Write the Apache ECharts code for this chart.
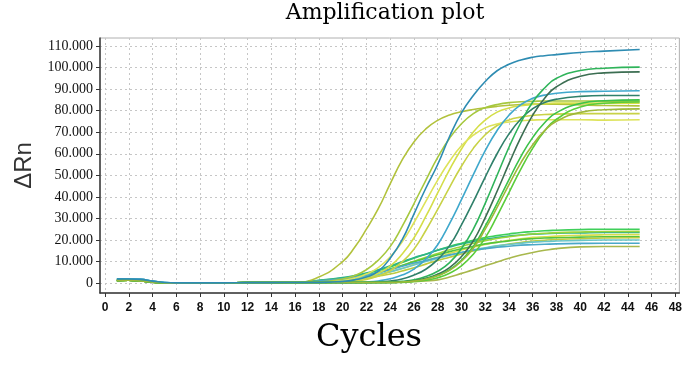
<!DOCTYPE html>
<html>
<head>
  <meta charset="UTF-8" />
  <title>Amplification plot</title>
  <script src="https://cdn.jsdelivr.net/npm/echarts@6/dist/echarts.min.js"></script>
  <style>
    html, body { margin: 0; padding: 0; background: #fff; }
    #chart { width: 685px; height: 374px; }
  </style>
</head>
<body>
  <div id="chart"></div>
  <script>
    // cycles where the baseline is read, shared by every well
    const earlyCycles = [1, 2, 3, 4, 5, 6, 8, 10, 12, 14, 16];
    const baseGreen = [1.2, 1.3, 1.0, 0.4, 0.1, 0, 0.1, 0.1, 0.2, 0.2, 0.3];
    const baseBlue = [1.9, 1.9, 1.7, 0.9, 0.3, 0.1, 0.1, 0.1, 0.2, 0.2, 0.3];

    // cycles read in the growth phase
    const lateCycles = [18, 20, 21, 22, 23, 24, 25, 26, 27, 28, 29, 30, 31, 32, 33, 34, 35, 36, 37, 38, 40, 42, 45];

    // high plateau wells (ΔRn in thousands)
    const wellA = [2.8, 10, 16.5, 25, 34.5, 46, 57, 65.5, 71.5, 75.5, 78, 79.5, 80.5, 81.3, 82, 82.5, 82.8, 83, 83, 83, 82.6, 82.4, 82.2];
    const wellB = [0.3, 0.8, 1.5, 2.8, 5.5, 11.5, 20, 32, 44, 55, 68, 79, 87, 93.5, 98.5, 101.5, 103.5, 104.8, 105.5, 106, 107, 107.6, 108.4];
    const wellC = [0.5, 1.9, 3.5, 6.2, 10.6, 16.9, 26.2, 36.8, 47.7, 58.3, 67.2, 73.9, 78.6, 81.4, 82.8, 83.7, 84.1, 84.3, 84.5, 84.5, 84.5, 84.4, 84.4];
    const wellD = [0.3, 0.7, 1.3, 2.5, 4.6, 7.9, 13.4, 20.9, 30.9, 41.8, 52.6, 62.2, 70.1, 75.6, 79.3, 81.2, 82.3, 82.9, 83.2, 83.5, 83.5, 83.5, 83.5];
    const wellE = [0.3, 0.5, 0.9, 1.7, 3.3, 5.7, 9.8, 15.7, 24.4, 34.2, 44.4, 54.2, 62.5, 68.8, 73.1, 75.7, 77.0, 77.8, 78.2, 78.4, 78.6, 78.6, 78.6];
    const wellX = [0.3, 1.1, 2.3, 4.2, 7.2, 12.1, 19.0, 28.0, 37.9, 47.8, 56.5, 63.7, 68.6, 72.0, 73.8, 74.7, 75.3, 75.6, 75.8, 75.8, 75.8, 75.6, 75.8];
    const wellF = [0.3, 0.3, 0.3, 0.5, 1.0, 2.0, 3.7, 6.5, 11.1, 17.8, 27.6, 38.7, 50.3, 61.4, 70.8, 77.9, 82.8, 85.7, 87.2, 88.1, 88.8, 89.0, 89.2];
    const wellG = [0.3, 0.3, 0.3, 0.3, 0.5, 1.0, 1.9, 3.7, 6.4, 10.9, 17.4, 27.0, 37.8, 49.2, 60.0, 69.2, 76.1, 80.9, 83.8, 85.3, 86.6, 87.0, 87.0];
    const wellH = [0.3, 0.3, 0.3, 0.3, 0.3, 0.4, 0.8, 1.5, 3.0, 5.5, 9.5, 16.0, 25.0, 37.0, 50.0, 63.0, 74.5, 84.0, 90.5, 95.0, 98.6, 99.7, 100.2];
    const wellI = [0.3, 0.3, 0.3, 0.3, 0.3, 0.3, 0.6, 1.1, 2.2, 4.1, 7.2, 12.3, 19.6, 30.4, 42.6, 55.4, 67.6, 77.9, 85.8, 91.1, 96.0, 97.5, 98.0];
    const wellJ = [0.3, 0.3, 0.3, 0.3, 0.3, 0.3, 0.5, 0.9, 1.9, 3.6, 6.2, 10.6, 17.0, 26.4, 37.0, 48.0, 58.7, 67.6, 74.4, 79.1, 83.3, 84.6, 85.0];
    const wellK = [0.3, 0.3, 0.3, 0.3, 0.3, 0.3, 0.3, 0.7, 1.3, 2.5, 4.6, 8.0, 13.4, 21.0, 31.1, 42.0, 52.9, 62.6, 70.6, 76.0, 81.7, 83.4, 84.0];
    const wellL = [0.3, 0.3, 0.3, 0.3, 0.3, 0.3, 0.5, 0.9, 1.8, 3.4, 5.9, 10.1, 16.2, 25.0, 35.1, 45.7, 55.8, 64.2, 70.7, 75.1, 79.2, 80.4, 80.8];

    // low plateau wells
    const low1 = [1.2, 2.3, 3.2, 4.4, 5.8, 7.5, 9.5, 11.5, 13.4, 15.3, 17.0, 18.5, 19.9, 21.1, 22.0, 22.8, 23.5, 23.9, 24.3, 24.5, 24.8, 25.0, 25.0];
    const low2 = [1.3, 2.6, 3.5, 4.7, 6.2, 8.0, 9.9, 11.8, 13.4, 15.2, 16.7, 18.1, 19.3, 20.3, 21.1, 21.8, 22.3, 22.7, 22.9, 23.1, 23.3, 23.5, 23.5];
    const low3 = [0.7, 1.9, 2.6, 3.6, 4.8, 6.4, 8.2, 10.1, 12.0, 13.7, 15.5, 17.0, 18.5, 19.7, 20.7, 21.5, 22.2, 22.8, 23.1, 23.4, 23.7, 23.9, 24.0];
    const low4 = [0.8, 1.5, 2.1, 2.9, 3.9, 5.2, 6.8, 8.6, 10.4, 12.0, 13.7, 15.3, 16.7, 17.9, 19.0, 19.8, 20.5, 21.2, 21.5, 21.8, 22.2, 22.4, 22.5];
    const low5 = [1.0, 2.0, 2.8, 3.8, 4.9, 6.5, 8.2, 9.9, 11.5, 13.1, 14.6, 15.9, 17.1, 18.2, 18.9, 19.6, 20.2, 20.6, 20.9, 21.0, 21.3, 21.5, 21.5];
    const low6 = [0.5, 1.2, 1.6, 2.3, 3.2, 4.2, 5.6, 7.1, 8.8, 10.5, 12.0, 13.5, 14.9, 16.2, 17.2, 18.1, 18.8, 19.5, 19.9, 20.2, 20.6, 20.9, 21.0];
    const low7 = [0.6, 1.6, 2.2, 3.0, 4.0, 5.3, 6.8, 8.4, 10.0, 11.4, 12.9, 14.2, 15.4, 16.4, 17.3, 17.9, 18.5, 19.0, 19.3, 19.5, 19.8, 20.0, 20.0];
    const low8 = [1.0, 2.0, 2.8, 3.7, 4.9, 6.3, 7.8, 9.3, 10.5, 11.9, 13.1, 14.2, 15.2, 16.0, 16.6, 17.1, 17.6, 17.8, 18.0, 18.2, 18.4, 18.5, 18.5];
    const low9 = [0.3, 0.3, 0.3, 0.3, 0.3, 0.4, 0.5, 0.7, 1.0, 1.5, 2.8, 4.5, 6.2, 8.0, 9.8, 11.5, 13.0, 14.2, 15.2, 16.0, 16.8, 17.0, 17.0];

    const xTicks = [0, 2, 4, 6, 8, 10, 12, 14, 16, 18, 20, 22, 24, 26, 28, 30, 32, 34, 36, 38, 40, 42, 44, 46, 48];
    const yTicks = [0, 10, 20, 30, 40, 50, 60, 70, 80, 90, 100, 110];

    // [values, baseline, colour]
    const wells = [
      [low9, baseGreen, '#a8b84c'],
      [low1, baseGreen, '#3fcf5a'],
      [low2, baseGreen, '#2cb48a'],
      [low3, baseGreen, '#9ad43a'],
      [low4, baseGreen, '#d6de4c'],
      [low5, baseGreen, '#55c43c'],
      [low6, baseGreen, '#bccb3e'],
      [low7, baseBlue, '#6ac6c6'],
      [low8, baseBlue, '#4aa8c8'],
      [wellA, baseGreen, '#b2c23c'],
      [wellC, baseGreen, '#a6c83e'],
      [wellD, baseGreen, '#d4de48'],
      [wellE, baseGreen, '#c8d246'],
      [wellX, baseGreen, '#dde35a'],
      [wellF, baseBlue, '#3fa8cc'],
      [wellG, baseGreen, '#2f806a'],
      [wellH, baseGreen, '#2fb45a'],
      [wellI, baseGreen, '#3c6e52'],
      [wellJ, baseGreen, '#3cc24a'],
      [wellK, baseGreen, '#5acd3a'],
      [wellL, baseGreen, '#9fb83a'],
      [wellB, baseBlue, '#2e8cb2']
    ];

    const series = wells.map(([vals, base, color], i) => ({
      name: 'well ' + (i + 1),
      type: 'line',
      data: earlyCycles.map((c, j) => [c, base[j]])
        .concat(lateCycles.map((c, j) => [c, vals[j]])),
      smooth: 0.5,
      showSymbol: false,
      symbol: 'none',
      lineStyle: { color: color, width: 1.6 },
      itemStyle: { color: color },
      silent: true
    }));

    const chart = echarts.init(document.getElementById('chart'));
    chart.setOption({
      animation: false,
      title: [
        {
          text: 'Amplification plot',
          left: 385, top: 2, textAlign: 'center', padding: 0,
          textStyle: { fontFamily: 'DejaVu Serif', fontSize: 22, fontWeight: 'normal', color: '#000' }
        },
        {
          text: 'Cycles',
          left: 369, top: 322, textAlign: 'center', padding: 0,
          textStyle: { fontFamily: 'DejaVu Serif', fontSize: 32, fontWeight: 'normal', color: '#000' }
        }
      ],
      grid: {
        left: 100, right: 5, top: 38, bottom: 81,
        show: true, borderColor: '#b0b0b0', borderWidth: 1
      },
      xAxis: {
        type: 'value',
        min: -0.42, max: 48.34,
        axisLine: { onZero: false, lineStyle: { color: '#3a3a3a', width: 1.5 } },
        axisTick: { customValues: xTicks, length: 4, lineStyle: { color: '#333' } },
        axisLabel: {
          customValues: xTicks, margin: 9,
          fontFamily: 'Liberation Sans', fontWeight: 'bold', fontSize: 12, color: '#111'
        },
        splitLine: { show: true, lineStyle: { color: '#c6c6c6', type: [2, 3] } }
      },
      yAxis: {
        type: 'value',
        min: -4.6, max: 113.7,
        name: 'ΔRn',
        nameLocation: 'middle',
        nameGap: 50,
        nameRotate: 90,
        nameTextStyle: { fontFamily: 'Liberation Sans', fontSize: 24, color: '#333' },
        axisLine: { show: true, onZero: false, lineStyle: { color: '#3a3a3a', width: 1.5 } },
        axisTick: { show: true, customValues: yTicks, length: 4, lineStyle: { color: '#333' } },
        axisLabel: {
          customValues: yTicks, margin: 7,
          fontFamily: 'Liberation Serif', fontSize: 14, color: '#111',
          formatter: v => v === 0 ? '0' : v.toFixed(3)
        },
        splitLine: { show: true, lineStyle: { color: '#c6c6c6', type: [2, 3] } }
      },
      series: series
    });
  </script>
</body>
</html>
